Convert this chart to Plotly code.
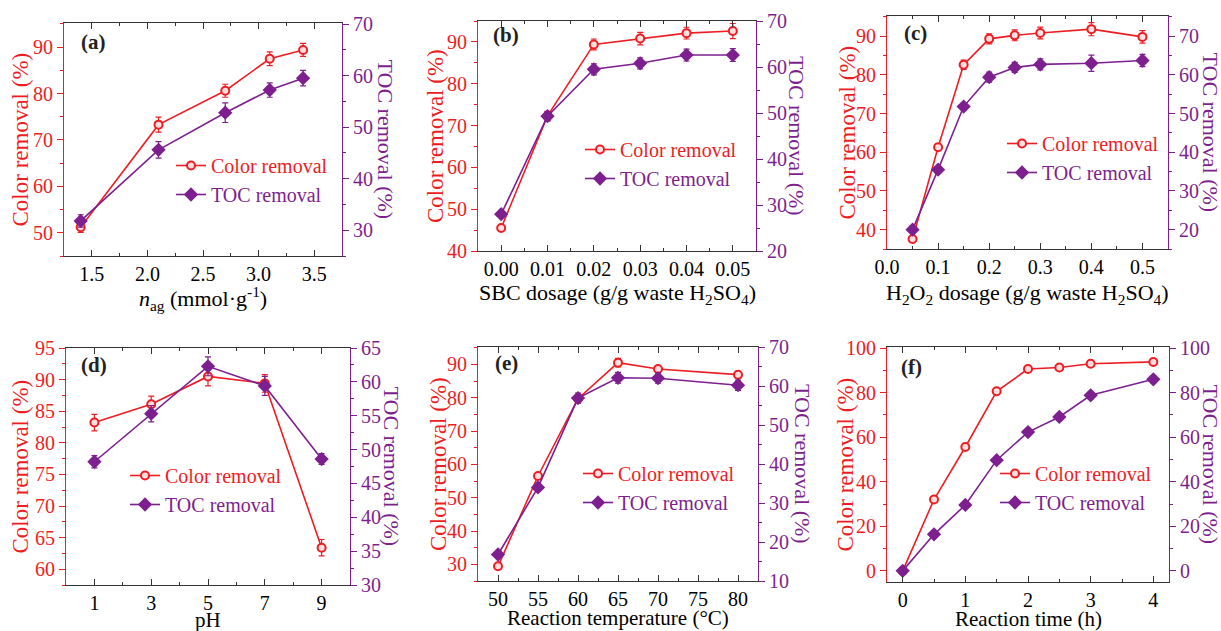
import plotly.graph_objects as go

W, H = 1221, 631
RED = '#EE1D23'
PURPLE = '#7E1F8F'
DARK = '#333333'
FONT = 'Liberation Serif'
TICK_FS = 20
LEG_FS = 20
XT_FS = 22
LT_FS = 23
RT_FS = 22

# ---------------- data ----------------
a_x = [1.4, 2.1, 2.7, 3.1, 3.4]
a_color = [51.2, 73.3, 80.6, 87.5, 89.4]
a_color_err = [1.1, 1.6, 1.4, 1.5, 1.4]
a_toc = [31.8, 45.6, 52.8, 57.2, 59.5]
a_toc_err = [1.2, 1.6, 1.9, 1.4, 1.5]

b_x = [0.00, 0.01, 0.02, 0.03, 0.04, 0.05]
b_color = [45.5, 72.3, 89.4, 90.8, 92.1, 92.6]
b_color_err = [0.6, 1.1, 1.3, 1.5, 1.4, 1.8]
b_toc = [28.0, 49.3, 59.5, 60.8, 62.6, 62.6]
b_toc_err = [0.6, 1.0, 1.2, 1.2, 1.3, 1.4]

c_x = [0.05, 0.1, 0.15, 0.2, 0.25, 0.3, 0.4, 0.5]
c_color = [37.6, 61.3, 82.6, 89.3, 90.2, 90.8, 91.8, 89.8]
c_color_err = [0.5, 0.8, 1.2, 1.3, 1.4, 1.5, 1.7, 1.6]
c_toc = [20.0, 35.5, 51.8, 59.4, 61.9, 62.7, 63.0, 63.7]
c_toc_err = [0.6, 0.7, 0.9, 1.3, 1.3, 1.4, 2.1, 1.6]

d_x = [1, 3, 5, 7, 9]
d_color = [83.2, 86.1, 90.5, 89.4, 63.4]
d_color_err = [1.3, 1.3, 1.5, 1.4, 1.3]
d_toc = [48.2, 55.3, 62.3, 59.4, 48.6]
d_toc_err = [0.9, 1.2, 1.4, 1.4, 0.8]

e_x = [50, 55, 60, 65, 70, 80]
e_color = [29.4, 56.5, 79.7, 90.5, 88.6, 86.9]
e_color_err = [0.5, 0.8, 1.3, 1.3, 1.0, 1.0]
e_toc = [16.8, 34.0, 56.9, 62.1, 62.0, 60.2]
e_toc_err = [0.5, 0.7, 1.3, 1.4, 1.3, 1.3]

f_x = [0, 0.5, 1, 1.5, 2, 2.5, 3, 4]
f_color = [0, 32.0, 55.6, 80.6, 90.6, 91.3, 93.0, 93.8]
f_color_err = [0.3, 0.6, 0.6, 0.6, 0.8, 1.2, 1.3, 1.2]
f_toc = [0, 16.4, 29.6, 49.7, 62.3, 69.1, 78.8, 86.0]
f_toc_err = [0.3, 0.6, 0.6, 0.8, 1.0, 1.3, 1.6, 1.6]

panel_labels = ['(a)', '(b)', '(c)', '(d)', '(e)', '(f)']
x_titles = [
    '<i>n</i><sub>ag</sub> (mmol·g<sup>-1</sup>)',
    'SBC dosage (g/g waste H<sub>2</sub>SO<sub>4</sub>)',
    'H<sub>2</sub>O<sub>2</sub> dosage (g/g waste H<sub>2</sub>SO<sub>4</sub>)',
    'pH',
    'Reaction temperature (°C)',
    'Reaction time (h)',
]
left_title = 'Color removal (%)'
right_title = 'TOC removal (%)'
series_names = ['Color removal', 'TOC removal']

# ---------------- layout config (pixels) ----------------
# leg = (x where legend text starts, top of legend); xts = x-title font size
panels = [
    dict(data=(a_x, a_color, a_color_err, a_toc, a_toc_err), box=(64, 342, 23, 256),
         xr=[1.25, 3.75], xd=0.5, x0=1.5, xm=0.25, xf='.1f',
         yl=[45, 95.2], yld=10, ylm=5, yr=[25, 70.2], yrd=10, yrm=5,
         lt=20, rt=385, xt=298, xts=XT_FS, leg=(211, 146), lab=(79, 42)),
    dict(data=(b_x, b_color, b_color_err, b_toc, b_toc_err), box=(478, 756, 21, 251),
         xr=[-0.005, 0.055], xd=0.01, x0=0, xm=0.005, xf='.2f',
         yl=[40, 95], yld=10, ylm=5, yr=[20, 70], yrd=10, yrm=5,
         lt=435, rt=797, xt=294, xts=XT_FS, leg=(620, 130), lab=(491, 35)),
    dict(data=(c_x, c_color, c_color_err, c_toc, c_toc_err), box=(887, 1168, 16, 249),
         xr=[0, 0.55], xd=0.1, x0=0, xm=0.05, xf='.1f',
         yl=[35, 95.2], yld=10, ylm=5, yr=[15, 75.2], yrd=10, yrm=5,
         lt=847, rt=1210, xt=294, xts=XT_FS, leg=(1042, 124), lab=(902, 33)),
    dict(data=(d_x, d_color, d_color_err, d_toc, d_toc_err), box=(66, 350, 348, 585),
         xr=[0, 10], xd=2, x0=1, xm=1, xf='d',
         yl=[57.5, 95], yld=5, ylm=2.5, yr=[30, 65], yrd=5, yrm=2.5,
         lt=20, rt=391, xt=620, xts=21, leg=(165, 456), lab=(79, 365)),
    dict(data=(e_x, e_color, e_color_err, e_toc, e_toc_err), box=(478, 758, 347, 581),
         xr=[47.5, 82.5], xd=5, x0=50, xm=2.5, xf='d',
         yl=[25, 95.2], yld=10, ylm=5, yr=[10, 70], yrd=10, yrm=5,
         lt=438, rt=803, xt=618, xts=21, leg=(618, 454), lab=(493, 363)),
    dict(data=(f_x, f_color, f_color_err, f_toc, f_toc_err), box=(887, 1169, 347, 582),
         xr=[-0.25, 4.25], xd=1, x0=0, xm=0.5, xf='d',
         yl=[-5, 100.5], yld=20, ylm=10, yr=[-5, 100.5], yrd=20, yrm=10,
         lt=845, rt=1210, xt=619, xts=21, leg=(1035, 454), lab=(899, 367)),
]

fig = go.Figure()
layout = dict(
    width=W, height=H, margin=dict(l=0, r=0, t=0, b=0),
    paper_bgcolor='white', plot_bgcolor='rgba(0,0,0,0)',
    font=dict(family=FONT, size=TICK_FS, color='black'),
    showlegend=True,
)
annotations = []


def px(x):
    return x / W


def py(y):
    return 1 - y / H


for i, p in enumerate(panels):
    n = i + 1
    xs = '' if n == 1 else str(n)
    yl_n = 2 * n - 1
    yr_n = 2 * n
    yls = '' if yl_n == 1 else str(yl_n)
    yrs = str(yr_n)
    legname = 'legend' if n == 1 else f'legend{n}'
    x, col, cole, toc, toce = p['data']
    x0p, x1p, y0p, y1p = p['box']

    fig.add_trace(go.Scatter(
        x=x, y=col, mode='lines+markers', name=f'<span style="color:{RED}">{series_names[0]}</span>',
        line=dict(color=RED, width=1.6),
        marker=dict(symbol='circle', size=8, color='#FFE0E0', line=dict(color=RED, width=2)),
        error_y=dict(type='data', array=cole, visible=True, color=RED, thickness=1.2, width=3),
        xaxis='x' + xs, yaxis='y' + yls, legend=legname,
    ))
    fig.add_trace(go.Scatter(
        x=x, y=toc, mode='lines+markers', name=f'<span style="color:{PURPLE}">{series_names[1]}</span>',
        line=dict(color=PURPLE, width=1.6),
        marker=dict(symbol='diamond', size=11, color=PURPLE, line=dict(width=0)),
        error_y=dict(type='data', array=toce, visible=True, color=PURPLE, thickness=1.2, width=3),
        xaxis='x' + xs, yaxis='y' + yrs, legend=legname,
    ))

    xax = dict(
        domain=[px(x0p), px(x1p)], range=p['xr'], anchor='y' + yls,
        tickmode='linear', tick0=p['x0'], dtick=p['xd'], tickformat=p['xf'],
        showline=True, linecolor=DARK, linewidth=1.2, mirror='ticks',
        ticks='inside', ticklen=6, tickcolor=DARK, tickwidth=1,
        minor=dict(ticks='inside', ticklen=3, dtick=p['xm'], tick0=p['x0'], tickcolor=DARK, showgrid=False),
        showgrid=False, zeroline=False, automargin=False,
        tickfont=dict(family=FONT, size=TICK_FS, color='black'),
    )
    ylax = dict(
        domain=[py(y1p), py(y0p)], range=p['yl'], anchor='x' + xs, side='left',
        tickmode='linear', dtick=p['yld'], tick0=0,
        showline=True, linecolor=RED, linewidth=1.2,
        ticks='outside', ticklen=6, tickcolor=RED, tickwidth=1,
        minor=dict(ticks='outside', ticklen=3, dtick=p['ylm'], tick0=0, tickcolor=RED, showgrid=False),
        showgrid=False, zeroline=False, automargin=False,
        tickfont=dict(family=FONT, size=TICK_FS, color=RED),
    )
    yrax = dict(
        range=p['yr'], anchor='x' + xs, overlaying='y' + yls, side='right',
        tickmode='linear', dtick=p['yrd'], tick0=0,
        showline=True, linecolor=PURPLE, linewidth=1.2,
        ticks='outside', ticklen=6, tickcolor=PURPLE, tickwidth=1,
        minor=dict(ticks='outside', ticklen=3, dtick=p['yrm'], tick0=0, tickcolor=PURPLE, showgrid=False),
        showgrid=False, zeroline=False, automargin=False,
        tickfont=dict(family=FONT, size=TICK_FS, color=PURPLE),
    )
    layout['xaxis' + xs] = xax
    layout['yaxis' + yls] = ylax
    layout['yaxis' + yrs] = yrax

    lx, ly = p['leg']
    layout[legname] = dict(
        x=px(lx - 40), y=py(ly), xanchor='left', yanchor='top', xref='paper', yref='paper',
        bgcolor='rgba(0,0,0,0)', borderwidth=0, tracegroupgap=0,
        font=dict(family=FONT, size=LEG_FS), itemwidth=30,
    )

    ymid = (y0p + y1p) / 2
    annotations.append(dict(
        x=px(p['lt']), y=py(ymid), xref='paper', yref='paper', text=left_title,
        textangle=-90, showarrow=False, xanchor='center', yanchor='middle',
        font=dict(family=FONT, size=LT_FS, color=RED)))
    annotations.append(dict(
        x=px(p['rt']), y=py(ymid), xref='paper', yref='paper', text=right_title,
        textangle=90, showarrow=False, xanchor='center', yanchor='middle',
        font=dict(family=FONT, size=RT_FS, color=PURPLE)))
    annotations.append(dict(
        x=px((x0p + x1p) / 2), y=py(p['xt']), xref='paper', yref='paper', text=x_titles[i],
        showarrow=False, xanchor='center', yanchor='middle',
        font=dict(family=FONT, size=p['xts'], color='black')))
    lbx, lby = p['lab']
    annotations.append(dict(
        x=px(lbx), y=py(lby), xref='paper', yref='paper', text='<b>' + panel_labels[i] + '</b>',
        showarrow=False, xanchor='left', yanchor='middle',
        font=dict(family=FONT, size=21, color='#222222')))

layout['annotations'] = annotations
fig.update_layout(**layout)
fig.write_html('out.html')
